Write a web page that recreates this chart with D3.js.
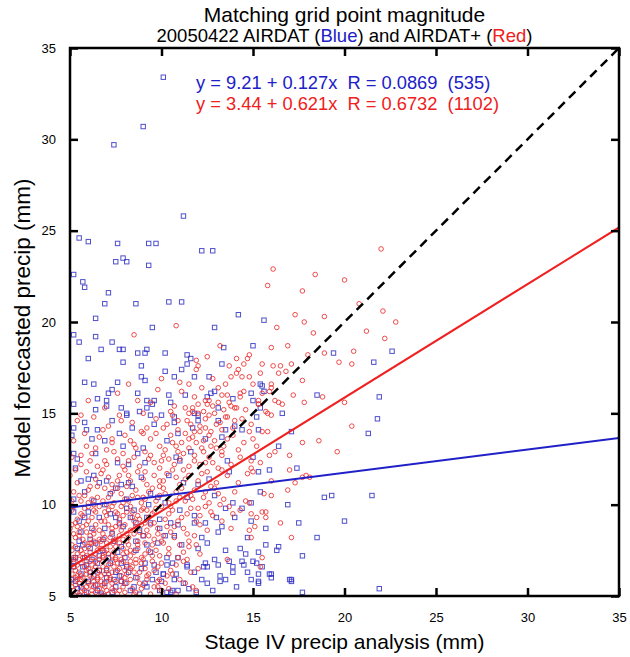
<!DOCTYPE html>
<html>
<head>
<meta charset="utf-8">
<script src="https://cdn.jsdelivr.net/npm/d3@7"></script>
<style>
  body { margin: 0; background: #fff; }
  svg { font-family: "Liberation Sans", Arial, sans-serif; }
</style>
</head>
<body>
<svg></svg>
<script>
var WIDTH = 630;
var HEIGHT = 657;

// axis range and tick labels
var axisDomain = [5, 35];
var tickValues = [5, 10, 15, 20, 25, 30, 35];

// fit coefficients [intercept, slope], R and sample counts as printed
var blueFit = [9.21, 0.127];
var redFit = [3.44, 0.621];
var fitLabels = [
  'y = 9.21 + 0.127x  R = 0.0869  (535)',
  'y = 3.44 + 0.621x  R = 0.6732  (1102)'
];

// AIRDAT (blue squares)
var bluePoints = [
  [10.1,33.4],[9.0,30.7],[7.4,29.7],[11.2,25.8],[5.5,24.6],[6.0,24.4],[7.6,24.3],[9.3,24.3],[9.7,24.3],
  [12.2,23.9],[12.8,23.9],[7.5,23.3],[7.9,23.5],[8.1,23.3],[9.3,23.1],[5.2,22.6],[5.7,22.2],[5.8,21.9],
  [7.1,21.6],[6.9,21.0],[8.6,21.0],[10.4,21.1],[11.1,21.1],[14.2,20.4],[6.4,20.2],[9.5,19.7],[12.9,19.7],
  [5.2,19.3],[5.5,18.9],[6.4,19.2],[7.3,18.9],[6.7,18.5],[7.7,18.5],[7.9,18.5],[9.2,18.5],[8.7,18.3],
  [9.1,18.3],[10.2,18.3],[13.4,18.6],[15.0,18.7],[6.0,18.0],[7.9,17.8],[11.4,18.2],[11.6,18.0],[11.4,17.7],
  [13.3,17.7],[8.9,17.6],[10.2,17.3],[11.1,17.4],[11.8,17.0],[12.6,17.0],[8.9,17.0],[9.1,16.8],[10.7,17.0],
  [5.8,16.7],[6.3,16.6],[7.6,16.7],[7.3,16.3],[7.1,16.1],[8.7,16.1],[10.4,16.0],[11.3,16.0],[12.7,16.1],
  [12.9,16.2],[14.9,16.1],[15.0,15.7],[6.5,15.8],[7.0,15.7],[7.0,15.4],[6.4,15.2],[5.2,15.5],[7.8,15.3],
  [9.2,15.7],[9.6,15.7],[9.5,15.5],[9.2,15.3],[10.5,15.6],[12.5,15.9],[13.9,15.8],[8.1,15.0],[8.8,15.1],
  [9.4,14.9],[10.0,14.9],[10.7,14.8],[12.0,14.9],[13.1,15.3],
  [15.6,20.1],[19.4,18.3],[22.6,18.4],[21.6,17.8],[15.4,16.6],[15.5,16.5],[15.6,16.2],[18.5,16.0],[21.9,15.9],
  [16.6,15.0],[15.4,15.3],[21.8,14.7],[21.3,13.9],[15.3,14.1],[17.1,14.0],[16.4,13.2],[15.0,12.6],[15.3,11.8],
  [15.9,11.9],[17.4,12.0],[15.4,10.7],[18.9,10.4],[19.3,10.5],[21.5,10.5],[16.9,10.0],[17.5,9.0],[20.0,9.1],
  [14.9,9.1],[15.7,8.7],[18.5,8.2],[15.7,7.8],[16.4,7.7],[16.3,7.5],[17.7,7.2],[15.3,7.4],[15.0,6.9],
  [15.5,6.6],[15.3,6.2],[16.0,6.2],[16.0,6.0],[15.3,5.8],[15.3,5.7],[17.1,5.9],[17.1,5.8],[17.7,5.2],[21.9,5.4],
  [8.1,14.9],[5.8,14.5],[5.2,14.2],[6.2,13.6],[6.5,14.1],[7.7,13.9],[7.9,13.2],[7.6,12.3],[8.2,12.2],
  [8.7,12.8],[9.0,13.1],[9.1,12.3],[10.7,14.5],[10.9,13.9],[10.8,12.6],[11.0,12.4],[11.8,15.0],[12.0,14.6],
  [13.1,14.6],[13.3,13.7],[13.5,14.1],[13.7,11.8],[14.0,14.3],[14.4,14.1],[15.2,14.8],
  [5.2,12.8],[5.3,12.0],[5.6,11.3],[6.0,11.4],[6.3,11.6],[7.0,11.3],[7.5,10.9],[8.2,11.2],[8.4,11.0],
  [9.3,10.0],[9.8,10.4],[10.2,10.1],[11.4,10.4],[12.0,11.1],[12.6,11.4],[12.9,10.5],[13.5,9.8],[13.9,10.1],
  [14.4,9.8],[14.9,10.1],[5.2,9.6],[5.8,9.3],[6.2,8.7],[6.6,9.3],[7.2,9.5],[7.7,9.0],[8.1,9.8],[8.6,9.0],
  [9.2,9.3],[9.9,8.7],[10.5,9.0],[10.7,8.3],[11.1,7.8],[11.8,9.0],[12.2,8.2],[12.5,7.9],[13.1,8.5],
  [13.5,7.5],[14.3,7.6],[14.7,8.2],[15.2,6.8],[14.4,6.9],[13.9,6.3],[13.2,6.1],[12.4,6.8],[11.8,6.3],
  [11.4,6.6],[10.9,7.1],[10.3,7.1],[9.7,6.3],[9.1,6.8],[8.6,6.0],[8.1,6.6],[7.7,6.1],[7.2,6.8],[6.6,7.2],
  [6.1,7.6],[5.5,8.0],[5.3,7.1],[5.7,6.6],[6.3,6.1],[6.9,5.7],[7.5,5.5],[8.3,5.3],[9.2,5.5],[9.9,5.3],
  [10.5,5.2],[5.6,5.5],[5.3,5.8],[6.5,5.3],[5.9,5.2],[5.6,8.5],[6.8,8.1],[7.4,8.0],[7.8,7.7],[8.6,8.0],
  [6.1,6.3],[7.0,6.4],[7.8,6.8],[6.5,6.8],[7.4,5.9],[8.0,5.7],[8.8,5.1],[5.8,7.1],[5.2,6.6],[5.5,5.0],
  [6.8,5.0],[9.5,5.9],[10.1,6.2],[10.7,5.9],[9.4,7.4],[9.0,8.3],[11.0,9.7],[11.8,9.4],[12.4,9.0],[13.0,9.3],
  [10.3,6.7],[10.8,6.2],[11.4,6.7],[12.3,6.6],[12.5,6.6],[13.1,6.7],[13.9,6.6],[14.5,6.7],[14.7,6.3],
  [13.5,5.9],[13.2,5.8],[12.5,5.7],[12.8,5.3],[11.9,5.2],[11.2,5.7],[15.9,6.2],[17.0,5.9],[10.3,5.2],
  [10.6,5.3],[10.9,5.3],[10.1,6.2],
  [5.1,5.9],[5.2,6.9],[5.4,7.6],[5.4,5.4],[5.6,6.2],[5.7,7.8],[5.9,6.7],[6.0,5.8],[6.1,8.1],[6.2,7.0],
  [6.4,5.6],[6.4,7.9],[6.6,6.4],[6.7,5.1],[6.8,7.5],[6.9,8.7],[7.0,6.0],[7.1,7.1],[7.3,5.2],[7.3,8.4],
  [7.5,6.3],[7.6,7.4],[7.8,5.8],[7.9,8.8],[8.0,7.1],[8.2,6.3],[8.3,9.3],[8.5,5.5],[8.6,7.5],[8.8,8.6],
  [8.9,6.5],[9.1,5.7],[9.2,7.8],[9.4,9.0],[9.6,6.7],[9.8,7.9],[10.0,5.8],[10.2,8.3],[10.6,6.8],[10.9,8.9],
  [5.2,10.3],[5.5,9.1],[5.8,10.7],[6.0,9.6],[6.3,10.2],[6.6,11.2],[6.9,10.0],[7.2,10.6],[7.5,9.3],[7.8,11.1],
  [8.1,10.3],[8.5,9.7],[8.9,11.5],[9.4,10.6],[9.9,9.2],[10.4,11.6],[11.2,11.2],[11.6,12.9],[12.4,13.6],[13.6,12.4],
  [5.1,13.8],[5.4,12.5],[5.9,14.1],[6.4,12.8],[6.9,13.5],[7.3,14.6],[8.4,14.2],[9.6,14.4],[10.3,13.5],[11.7,14.2],
  [11.5,5.4],[12.2,5.9],[12.9,7.0],[13.7,6.9],[14.1,5.5],[14.6,7.3],[14.9,5.9],[12.0,7.6],[13.3,8.8],[14.0,9.3]
];

// AIRDAT+ (red circles)
var redPoints = [
  [10.0,16.9],[11.0,16.7],[11.9,17.9],[11.9,17.4],[7.6,16.1],[11.8,15.9],[10.7,15.4],[11.7,15.3],[9.0,15.0],
  [13.1,16.4],[13.3,16.0],[13.6,16.0],[14.1,18.0],[14.8,18.2],[14.7,18.0],[14.5,17.7],[13.7,17.6],[14.2,17.4],
  [14.1,17.2],[14.4,17.0],[14.8,17.0],[13.8,17.0],[15.0,16.6],[14.5,16.2],[14.3,15.9],[15.3,15.5],[12.4,15.7],
  [12.6,15.7],[13.1,15.6],[12.5,15.5],[12.8,15.4],[13.8,15.4],[14.0,15.3],[14.1,15.3],[13.4,15.2],[11.5,15.0],
  [11.7,15.1],[12.0,15.0],[12.3,15.1],[12.6,14.9],[13.5,14.8],[10.8,19.8],[8.5,19.3],
  [22.0,24.0],[16.1,22.9],[18.4,22.6],[20.0,22.3],[15.8,22.0],[17.7,21.7],[20.8,21.0],[22.1,20.6],[17.3,20.4],
  [17.8,20.0],[18.9,20.3],[22.8,20.0],[16.3,19.7],[18.3,19.4],[21.2,19.5],[22.2,19.1],[16.0,18.6],[16.9,18.7],
  [20.5,18.4],[18.0,18.2],[18.9,18.3],[15.5,17.7],[16.1,17.6],[16.5,17.6],[17.1,17.7],[19.7,17.8],[20.4,17.7],
  [16.8,17.3],[16.4,17.2],[15.4,17.2],[17.7,16.8],[16.0,16.6],[16.0,16.4],[15.9,16.2],[15.5,16.1],[17.2,16.0],
  [18.8,15.9],[16.2,15.7],[16.4,15.6],[16.6,15.5],[17.8,15.6],[20.0,15.6],[15.3,15.7],[15.7,15.1],[15.8,15.0],
  [16.0,14.9],[15.3,15.5],
  [15.5,14.0],[15.8,14.0],[20.4,14.3],[17.7,13.4],[18.6,13.5],[19.6,12.9],[15.2,13.2],[16.2,12.9],[15.9,12.7],
  [17.0,12.7],[15.4,12.3],[14.9,12.0],[15.0,11.8],[17.0,11.9],[17.7,11.5],[17.9,11.6],[18.1,11.5],[16.0,11.3],
  [17.3,11.2],[15.6,10.6],[16.0,10.5],[16.9,10.8],[14.8,10.1],[15.7,9.6],[15.5,9.6],[15.2,9.3],[15.7,9.3],
  [14.9,9.5],[16.5,9.0],[15.1,8.8],[14.8,8.6],[17.1,8.2],[14.9,8.2],[15.5,7.1],[15.4,6.6],
  [11.9,5.3],[11.3,5.7],[11.4,7.0],[13.6,7.0],[9.8,5.5],[9.9,5.9],
  [5.4,14.6],[6.3,14.8],[7.1,14.3],[7.7,14.9],[8.4,14.5],[9.2,14.2],[9.7,14.7],[10.3,14.4],[10.9,14.1],
  [11.4,14.6],[12.1,14.3],[12.7,14.0],[13.2,14.5],[13.9,14.2],[14.4,14.7],[14.8,14.0],[8.9,14.0],[11.8,14.0],
  [13.6,14.8],[6.8,14.1],[10.6,14.9],[12.4,14.7],
  [5.2,13.5],[5.9,13.2],[6.6,13.7],[7.3,13.4],[8.0,13.8],[8.6,13.1],[9.4,13.6],[9.9,13.2],[10.5,13.8],
  [11.1,13.4],[11.7,13.7],[12.2,13.1],[12.9,13.5],[13.4,13.2],[13.9,13.8],[14.5,13.4],[15.0,13.6],[7.0,13.0],
  [10.2,13.0],[11.5,13.1],[12.6,13.8],[14.2,13.0],[8.3,13.5],[9.0,13.9],[11.3,13.9],[13.0,13.1],[11.9,13.4],
  [10.8,13.2],[12.3,13.5],
  [5.1,12.6],[5.6,12.2],[6.2,12.8],[6.9,12.4],[7.4,12.9],[7.9,12.1],[8.5,12.6],[9.1,12.9],[9.6,12.3],
  [10.1,12.7],[10.7,12.2],[11.2,12.8],[11.8,12.4],[12.3,12.9],[12.8,12.3],[13.3,12.7],[13.8,12.2],[14.3,12.6],
  [14.9,12.4],[6.5,12.1],[8.2,12.4],[9.9,12.0],[11.5,12.1],[12.6,12.6],[13.1,12.0],[10.4,12.5],[11.0,12.5],
  [12.1,12.2],[7.6,12.5],[9.3,12.5],
  [5.0,11.6],[5.4,11.2],[5.9,11.8],[6.4,11.4],[6.8,11.9],[7.3,11.1],[7.7,11.6],[8.3,11.3],[8.7,11.8],
  [9.2,11.1],[9.6,11.6],[10.1,11.3],[10.6,11.9],[11.0,11.1],[11.5,11.6],[12.0,11.3],[12.5,11.8],[13.0,11.2],
  [13.6,11.6],[14.2,11.2],[14.7,11.7],[6.1,11.0],[8.0,11.9],[9.9,11.0],[11.3,11.4],[12.7,11.0],[10.8,11.5],
  [7.1,11.5],[9.0,11.4],[12.2,11.7],[13.3,11.9],
  [5.2,10.7],[5.6,10.2],[6.0,10.8],[6.5,10.4],[6.9,10.9],[7.4,10.1],[7.8,10.6],[8.2,10.2],[8.6,10.8],
  [9.1,10.3],[9.5,10.9],[9.9,10.5],[10.4,10.1],[10.8,10.7],[11.3,10.2],[11.8,10.8],[12.3,10.4],[12.9,10.9],
  [13.4,10.3],[14.0,10.7],[14.6,10.2],[5.8,10.5],[7.1,10.4],[8.9,10.1],[10.1,10.9],[11.6,10.5],[12.6,10.1],
  [6.3,10.0],[8.4,10.5],[9.7,10.2],[11.0,10.4],[13.1,10.6],[7.6,10.9],
  [5.1,9.7],[5.4,9.2],[5.8,9.8],[6.2,9.3],[6.6,9.9],[7.0,9.4],[7.3,9.9],[7.7,9.2],[8.1,9.6],[8.5,9.1],
  [8.9,9.7],[9.3,9.3],[9.7,9.8],[10.2,9.2],[10.6,9.7],[11.1,9.3],[11.6,9.8],[12.1,9.4],[12.7,9.6],[13.3,9.1],
  [13.9,9.5],[5.6,9.5],[6.9,9.1],[8.3,9.9],[9.5,9.5],[10.9,9.1],[12.4,9.9],[6.4,9.6],[7.9,9.4],[9.1,9.0],
  [10.4,9.5],[11.9,9.1],[7.5,9.6],[8.7,9.4],[6.0,9.1],
  [5.0,8.7],[5.3,8.2],[5.7,8.8],[6.1,8.3],[6.4,8.9],[6.8,8.4],[7.1,8.9],[7.5,8.1],[7.8,8.6],[8.2,8.2],
  [8.6,8.8],[9.0,8.3],[9.4,8.9],[9.8,8.4],[10.3,8.8],[10.7,8.2],[11.2,8.7],[11.8,8.3],[12.5,8.6],[13.8,8.7],
  [5.5,8.5],[6.6,8.1],[7.3,8.5],[8.0,8.9],[8.8,8.5],[9.6,8.1],[10.5,8.5],[11.5,8.0],[6.3,8.6],[7.7,8.3],
  [9.2,8.6],[10.0,8.0],[12.1,8.9],
  [5.1,7.8],[5.4,7.3],[5.8,7.9],[6.1,7.4],[6.5,7.8],[6.8,7.2],[7.2,7.7],[7.5,7.1],[7.9,7.6],[8.3,7.2],
  [8.7,7.8],[9.1,7.3],[9.5,7.8],[9.9,7.2],[10.4,7.6],[10.9,7.1],[11.5,7.7],[12.1,7.3],[5.6,7.5],[6.3,7.1],
  [7.0,7.5],[7.7,7.9],[8.5,7.4],[9.3,7.5],[10.1,7.9],[11.2,7.4],[6.7,7.6],[8.1,7.4],[8.9,7.1],[9.7,7.5],
  [5.2,7.1],[6.0,7.7],
  [5.0,6.9],[5.3,6.4],[5.6,6.8],[5.9,6.2],[6.2,6.7],[6.5,6.3],[6.8,6.9],[7.1,6.2],[7.4,6.6],[7.8,6.1],
  [8.1,6.7],[8.5,6.3],[8.9,6.8],[9.3,6.2],[9.8,6.6],[10.3,6.1],[10.8,6.7],[11.6,6.3],[5.4,6.1],[6.0,6.5],
  [6.7,6.1],[7.3,6.9],[8.0,6.4],[8.7,6.0],[9.5,6.9],[10.5,6.4],[5.8,6.6],[6.4,6.9],[7.6,6.4],[8.3,6.9],
  [9.1,6.5],[7.0,6.5],[5.2,6.6],
  [5.0,5.8],[5.2,5.3],[5.5,5.7],[5.8,5.1],[6.1,5.6],[6.4,5.2],[6.7,5.8],[7.0,5.3],[7.3,5.7],[7.6,5.1],
  [7.9,5.5],[8.3,5.9],[8.6,5.2],[9.0,5.6],[9.4,5.1],[9.8,5.8],[10.4,5.4],[11.0,5.9],[11.7,5.5],[5.4,5.9],
  [6.0,5.0],[6.6,5.4],[7.2,5.9],[7.8,5.8],[8.4,5.4],[9.2,5.9],[5.7,5.4],[6.3,5.8],[6.9,5.0],[8.0,5.2],
  [8.8,5.7],[10.0,5.3],
  [5.3,9.0],[5.7,8.1],[6.0,9.9],[6.3,8.0],[6.6,8.6],[6.9,9.6],[7.2,8.2],[7.5,8.8],[7.8,9.9],[8.1,8.4],
  [8.4,9.3],[8.7,8.0],[5.2,8.4],[5.9,7.2],[6.2,7.9],[6.6,7.0],[7.0,7.9],[7.4,7.4],[7.8,7.0],[8.2,7.8],
  [8.6,7.0],[5.5,6.3],[5.9,6.9],[6.3,6.4],[6.8,6.6],[7.2,6.0],[7.6,6.8],[8.0,6.0],[8.4,6.6],[5.1,5.5],
  [5.5,5.1],[5.9,5.5],[6.2,5.3],[6.5,5.6],[6.9,5.5],[7.4,5.3],[5.3,6.0],[5.7,6.0],[6.1,6.1],[6.5,6.0],
  [5.1,7.5],[5.5,7.0],[5.8,7.6],[6.4,7.3],[6.9,7.4],[7.3,7.2],[5.4,8.8],[5.9,8.5],[6.7,8.0],[7.4,8.0],
  [7.9,8.1],[8.3,8.6],[8.8,9.2],[9.2,9.7],[9.6,9.0],[10.0,9.9],[9.0,10.4],[8.0,10.3],[7.0,10.0],[6.2,10.3],
  [5.1,10.2],[5.3,11.9],[5.6,12.7],[5.8,13.9],[6.1,12.4],[6.4,13.1],[6.7,11.7],[7.0,12.2],[7.3,13.6],[7.6,11.3],
  [7.9,12.8],[8.2,11.6],[8.5,13.3],[8.8,12.1],[9.1,11.8],[9.4,12.7],[9.7,13.9],[10.0,12.4],[10.3,11.7],[10.6,13.4],
  [10.9,12.9],[11.2,11.9],[11.5,13.6],[11.8,12.7],[12.1,14.0],[12.4,12.3],[12.7,13.2],[13.0,14.4],[13.3,12.9],[13.6,13.6],
  [5.2,9.9],[5.5,10.5],[5.7,9.4],[6.0,10.1],[6.3,9.7],[6.5,11.0],[6.8,10.2],[7.1,9.7],[7.3,10.7],[7.6,9.5],
  [7.9,10.1],[8.1,11.0],[8.4,9.6],[8.7,10.4],[9.0,9.8],[9.3,10.7],[9.6,9.6],[9.9,11.3],[10.2,10.6],[10.5,9.9],
  [10.8,10.2],[11.1,10.9],[11.4,9.5],[11.7,10.3],[12.0,9.8],[12.4,10.7],[12.8,9.4],[13.2,10.0],[13.7,9.9],[14.3,9.7],
  [5.1,8.9],[5.3,7.7],[5.5,8.3],[5.7,7.3],[5.9,8.9],[6.1,7.9],[6.3,8.4],[6.5,7.5],[6.7,9.1],[6.9,8.2],
  [7.1,7.3],[7.3,8.7],[7.5,7.7],[7.7,8.9],[7.9,7.3],[8.1,8.0],[8.3,7.5],[8.5,8.4],[8.7,7.6],[8.9,8.9],
  [9.1,7.9],[9.3,8.3],[9.5,7.2],[9.8,8.7],[10.1,8.3],[10.4,7.3],[10.7,8.8],[11.0,7.8],[11.4,8.4],[11.9,7.8],
  [5.1,6.2],[5.2,7.0],[5.4,6.7],[5.6,6.1],[5.7,7.1],[5.9,6.4],[6.1,6.9],[6.2,6.0],[6.4,6.6],[6.6,6.4],
  [6.8,7.1],[6.9,6.2],[7.1,6.7],[7.3,6.3],[7.5,7.0],[7.7,6.5],[7.9,6.9],[8.1,6.2],[8.3,6.5],[8.6,6.8],
  [8.8,6.3],[9.0,7.0],[9.2,6.1],[9.6,6.4],[10.0,6.8],[10.6,6.2],[11.2,6.9],[12.0,6.5],
  [5.1,5.1],[5.3,5.6],[5.4,5.2],[5.6,5.9],[5.8,5.3],[6.0,5.7],[6.2,5.1],[6.3,5.5],[6.5,5.9],[6.7,5.2],
  [6.8,5.6],[7.0,5.8],[7.1,5.1],[7.3,5.4],[7.5,5.8],[7.7,5.3],[8.1,5.7],[8.5,5.1],[8.9,5.4],[9.6,5.5],
  [10.2,5.7],[10.8,5.1],
  [10.1,14.2],[10.5,15.1],[10.9,14.6],[11.3,15.3],[11.6,14.4],[12.0,15.5],[12.4,14.2],[12.9,15.0],[13.3,14.1],[13.7,15.6],
  [14.0,14.6],[14.3,16.1],[14.6,15.2],[14.9,14.4],[11.1,16.2],[11.5,16.6],[12.2,16.4],[12.8,16.9],[13.5,16.6],[12.0,17.6],
  [9.4,15.6],[9.8,16.3],[8.7,15.7],[8.2,16.6],[7.8,14.6],[6.9,15.3],[6.0,15.7],[5.6,14.9],[13.2,18.7],[12.5,18.1]
];

var plot = { left: 70, right: 619, top: 48, bottom: 596 };

var svg = d3.select('svg')
  .attr('width', WIDTH)
  .attr('height', HEIGHT);

var xScale = d3.scaleLinear().domain(axisDomain).range([plot.left, plot.right]);
var yScale = d3.scaleLinear().domain(axisDomain).range([plot.bottom, plot.top]);

svg.append('clipPath').attr('id', 'clip')
  .append('rect')
  .attr('x', plot.left).attr('y', plot.top)
  .attr('width', plot.right - plot.left)
  .attr('height', plot.bottom - plot.top);

var inner = svg.append('g').attr('clip-path', 'url(#clip)');

// blue squares
inner.append('g')
  .selectAll('rect')
  .data(bluePoints)
  .enter()
  .append('rect')
  .attr('x', function(d) { return xScale(d[0]) - 2.2; })
  .attr('y', function(d) { return yScale(d[1]) - 2.2; })
  .attr('width', 4.4)
  .attr('height', 4.4)
  .attr('fill', 'none')
  .attr('stroke', '#3030c4')
  .attr('stroke-opacity', 0.85)
  .attr('stroke-width', 1);

// red circles
inner.append('g')
  .selectAll('circle')
  .data(redPoints)
  .enter()
  .append('circle')
  .attr('cx', function(d) { return xScale(d[0]); })
  .attr('cy', function(d) { return yScale(d[1]); })
  .attr('r', 2.3)
  .attr('fill', 'none')
  .attr('stroke', '#ec2e2e')
  .attr('stroke-opacity', 0.85)
  .attr('stroke-width', 1);

// 1:1 line and fits
var line = d3.line()
  .x(function(d) { return xScale(d[0]); })
  .y(function(d) { return yScale(d[1]); });

function fitLine(fit) {
  return axisDomain.map(function(x) { return [x, fit[0] + fit[1] * x]; });
}

inner.append('path')
  .attr('d', line(axisDomain.map(function(x) { return [x, x]; })))
  .attr('stroke', '#000')
  .attr('stroke-width', 2.5)
  .attr('stroke-dasharray', '9,6')
  .attr('fill', 'none');

inner.append('path')
  .attr('d', line(fitLine(blueFit)))
  .attr('stroke', '#2020c8')
  .attr('stroke-width', 2)
  .attr('fill', 'none');

inner.append('path')
  .attr('d', line(fitLine(redFit)))
  .attr('stroke', '#f02020')
  .attr('stroke-width', 2)
  .attr('fill', 'none');

// axes, ticks pointing inward
var xAxis = d3.axisBottom(xScale).tickValues(tickValues).tickSizeInner(-8).tickSizeOuter(0).tickPadding(17);
var yAxis = d3.axisLeft(yScale).tickValues(tickValues).tickSizeInner(-8).tickSizeOuter(0).tickPadding(14);
var xTop = d3.axisTop(xScale).tickValues(tickValues).tickSizeInner(-8).tickSizeOuter(0).tickFormat('');
var yRight = d3.axisRight(yScale).tickValues(tickValues).tickSizeInner(-8).tickSizeOuter(0).tickFormat('');

function styleAxis(g) {
  g.select('.domain').remove();
  g.selectAll('.tick line').attr('stroke', '#000').attr('stroke-width', 2.5);
  g.selectAll('.tick text').attr('fill', '#000').style('font-size', '13px')
    .style('font-family', '"Liberation Sans", Arial, sans-serif');
}

svg.append('g').attr('transform', 'translate(0,' + plot.bottom + ')').call(xAxis).call(styleAxis);
svg.append('g').attr('transform', 'translate(' + plot.left + ',0)').call(yAxis).call(styleAxis);
svg.append('g').attr('transform', 'translate(0,' + plot.top + ')').call(xTop).call(styleAxis);
svg.append('g').attr('transform', 'translate(' + plot.right + ',0)').call(yRight).call(styleAxis);

svg.append('rect')
  .attr('x', plot.left).attr('y', plot.top)
  .attr('width', plot.right - plot.left)
  .attr('height', plot.bottom - plot.top)
  .attr('fill', 'none')
  .attr('stroke', '#000')
  .attr('stroke-width', 2.5);

// titles
var cx = (plot.left + plot.right) / 2;
svg.append('text')
  .attr('x', cx).attr('y', 22)
  .attr('text-anchor', 'middle')
  .style('font-size', '21px')
  .text('Matching grid point magnitude');

var sub = svg.append('text')
  .attr('x', cx).attr('y', 42)
  .attr('text-anchor', 'middle')
  .style('font-size', '18.5px');
sub.append('tspan').text('20050422 AIRDAT (');
sub.append('tspan').attr('fill', '#2020c8').text('Blue');
sub.append('tspan').text(') and AIRDAT+ (');
sub.append('tspan').attr('fill', '#f02020').text('Red');
sub.append('tspan').text(')');

svg.selectAll('.fitlabel')
  .data(fitLabels)
  .enter()
  .append('text')
  .attr('class', 'fitlabel')
  .attr('x', 196)
  .attr('y', function(d, i) { return 89 + i * 21; })
  .attr('fill', function(d, i) { return i === 0 ? '#2020c8' : '#f02020'; })
  .style('font-size', '18.3px')
  .style('white-space', 'pre')
  .text(function(d) { return d; });

// axis titles
svg.append('text')
  .attr('x', cx).attr('y', 649)
  .attr('text-anchor', 'middle')
  .style('font-size', '21px')
  .text('Stage IV precip analysis (mm)');

svg.append('text')
  .attr('transform', 'translate(30,' + 328 + ') rotate(-90)')
  .attr('text-anchor', 'middle')
  .style('font-size', '22.5px')
  .text('Model forecasted precip (mm)');
</script>
</body>
</html>
